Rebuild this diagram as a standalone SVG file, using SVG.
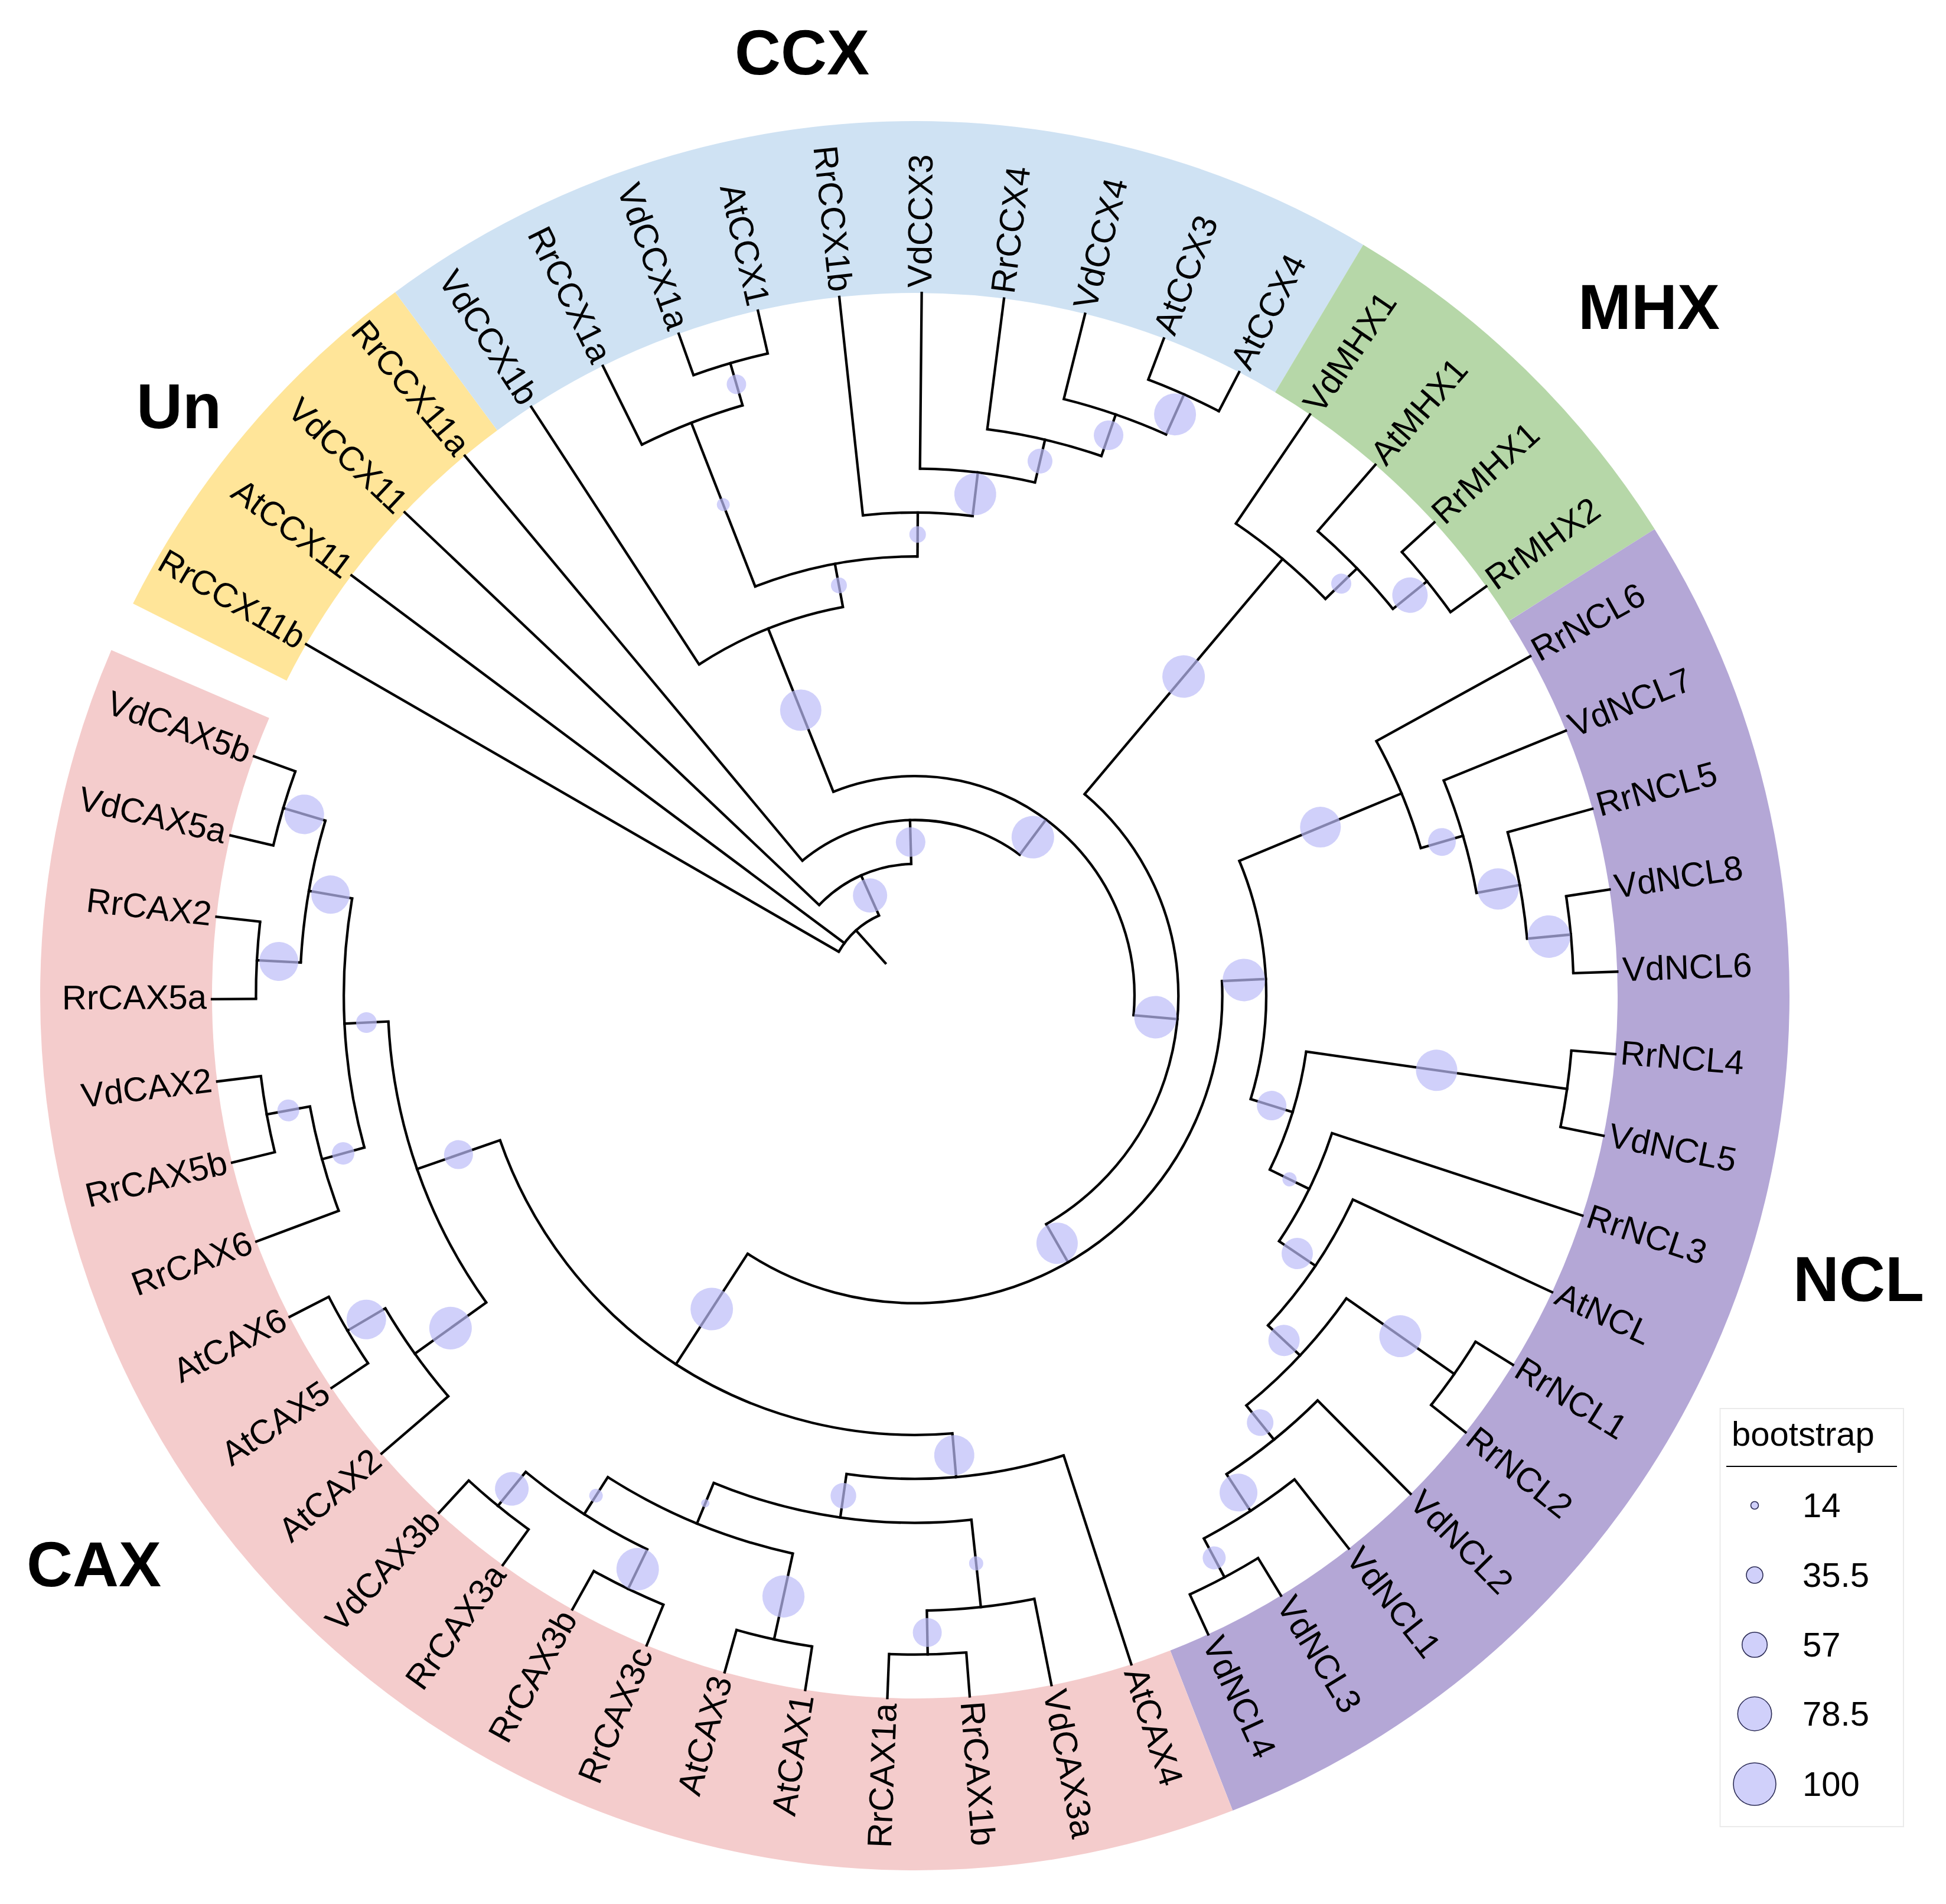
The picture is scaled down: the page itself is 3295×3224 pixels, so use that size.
<svg xmlns="http://www.w3.org/2000/svg" width="3295" height="3224" viewBox="0 0 3295 3224">
<style>
.band{fill:none;stroke-width:291}
.e line{stroke:#000;stroke-width:4.3;stroke-linecap:square}
.e circle{fill:none;stroke:#000;stroke-width:4.3}
.bs{fill:#BCBCF8;fill-opacity:0.7}
.t{font-family:"Liberation Sans",Arial,Helvetica,sans-serif;font-size:58px;fill:#000}
.tr{text-anchor:end}
.ti{font-family:"Liberation Sans",Arial,Helvetica,sans-serif;font-size:108px;font-weight:bold;fill:#000}
.lg{fill:#BCBCF8;fill-opacity:0.7;stroke:#2b2b55;stroke-width:1.6}
</style>
<rect width="3295" height="3224" fill="#fff"/>
<g transform="translate(1549,1686)">
<g id="bands">
<circle class="band" r="1335.5" pathLength="360" stroke="#FFE599" stroke-dasharray="26.916 400" transform="rotate(206.6355)"/>
<circle class="band" r="1335.5" pathLength="360" stroke="#CFE2F3" stroke-dasharray="67.29 400" transform="rotate(233.5515)"/>
<circle class="band" r="1335.5" pathLength="360" stroke="#B6D7A8" stroke-dasharray="26.916 400" transform="rotate(300.8415)"/>
<circle class="band" r="1335.5" pathLength="360" stroke="#B4A7D6" stroke-dasharray="100.935 400" transform="rotate(327.7575)"/>
<circle class="band" r="1335.5" pathLength="360" stroke="#F4CCCC" stroke-dasharray="134.58 400" transform="rotate(68.6925)"/>
</g>
<g id="connectors" class="e">
<line x1="74.38" x2="148.75" transform="rotate(227.97)"/>
<circle r="148.75" pathLength="360" stroke-dasharray="35.94 400" transform="rotate(210)"/>
<circle r="223.13" pathLength="360" stroke-dasharray="44.97 400" transform="rotate(223.46)"/>
<circle r="297.5" pathLength="360" stroke-dasharray="76.47 400" transform="rotate(230.19)"/>
<circle r="371.88" pathLength="360" stroke-dasharray="116.885 400" transform="rotate(248.22)"/>
<circle r="669.38" pathLength="360" stroke-dasharray="22.6 400" transform="rotate(236.92)"/>
<circle r="743.75" pathLength="360" stroke-dasharray="21.66 400" transform="rotate(248.69)"/>
<circle r="1041.25" pathLength="360" stroke-dasharray="10.085 400" transform="rotate(243.65)"/>
<circle r="1115.63" pathLength="360" stroke-dasharray="6.73 400" transform="rotate(250.37)"/>
<circle r="818.13" pathLength="360" stroke-dasharray="13.04 400" transform="rotate(263.83)"/>
<circle r="892.5" pathLength="360" stroke-dasharray="12.62 400" transform="rotate(270.56)"/>
<circle r="966.88" pathLength="360" stroke-dasharray="11.78 400" transform="rotate(277.29)"/>
<circle r="1041.25" pathLength="360" stroke-dasharray="10.095 400" transform="rotate(284.02)"/>
<circle r="1115.63" pathLength="360" stroke-dasharray="6.73 400" transform="rotate(290.75)"/>
<circle r="446.25" pathLength="360" stroke-dasharray="110.01 400" transform="rotate(310.10)"/>
<circle r="966.88" pathLength="360" stroke-dasharray="11.77 400" transform="rotate(304.21)"/>
<circle r="1041.25" pathLength="360" stroke-dasharray="10.085 400" transform="rotate(310.94)"/>
<circle r="1115.63" pathLength="360" stroke-dasharray="6.73 400" transform="rotate(317.66)"/>
<circle r="520.63" pathLength="360" stroke-dasharray="125.671 400" transform="rotate(357.275)"/>
<circle r="595" pathLength="360" stroke-dasharray="39.69 400" transform="rotate(337.43)"/>
<circle r="892.5" pathLength="360" stroke-dasharray="12.619 400" transform="rotate(331.12)"/>
<circle r="966.88" pathLength="360" stroke-dasharray="11.7775 400" transform="rotate(337.85)"/>
<circle r="1041.25" pathLength="360" stroke-dasharray="10.095 400" transform="rotate(344.58)"/>
<circle r="1115.63" pathLength="360" stroke-dasharray="6.73 400" transform="rotate(351.31)"/>
<circle r="669.38" pathLength="360" stroke-dasharray="17.975 400" transform="rotate(368.135)"/>
<circle r="1115.63" pathLength="360" stroke-dasharray="6.73 400" transform="rotate(364.77)"/>
<circle r="743.75" pathLength="360" stroke-dasharray="15.76 400" transform="rotate(378.23)"/>
<circle r="818.13" pathLength="360" stroke-dasharray="18.087 400" transform="rotate(384.95)"/>
<circle r="892.5" pathLength="360" stroke-dasharray="15.984 400" transform="rotate(395.045)"/>
<circle r="1115.63" pathLength="360" stroke-dasharray="6.73 400" transform="rotate(391.68)"/>
<circle r="966.88" pathLength="360" stroke-dasharray="11.7775 400" transform="rotate(405.14)"/>
<circle r="1041.25" pathLength="360" stroke-dasharray="10.095 400" transform="rotate(411.87)"/>
<circle r="1115.63" pathLength="360" stroke-dasharray="6.73 400" transform="rotate(418.60)"/>
<circle r="743.75" pathLength="360" stroke-dasharray="75.702 400" transform="rotate(85.095)"/>
<circle r="818.13" pathLength="360" stroke-dasharray="26.07 400" transform="rotate(72.06)"/>
<circle r="892.5" pathLength="360" stroke-dasharray="28.595 400" transform="rotate(83.835)"/>
<circle r="1041.25" pathLength="360" stroke-dasharray="10.09 400" transform="rotate(78.79)"/>
<circle r="1115.63" pathLength="360" stroke-dasharray="6.72 400" transform="rotate(85.52)"/>
<circle r="966.88" pathLength="360" stroke-dasharray="20.19 400" transform="rotate(102.335)"/>
<circle r="1115.63" pathLength="360" stroke-dasharray="6.73 400" transform="rotate(98.97)"/>
<circle r="1041.25" pathLength="360" stroke-dasharray="13.46 400" transform="rotate(115.795)"/>
<circle r="1115.63" pathLength="360" stroke-dasharray="6.73 400" transform="rotate(112.43)"/>
<circle r="1115.63" pathLength="360" stroke-dasharray="6.73 400" transform="rotate(125.89)"/>
<circle r="892.5" pathLength="360" stroke-dasharray="32.7985 400" transform="rotate(144.3975)"/>
<circle r="966.88" pathLength="360" stroke-dasharray="25.2375 400" transform="rotate(164.5775)"/>
<circle r="1041.25" pathLength="360" stroke-dasharray="13.46 400" transform="rotate(183.085)"/>
<circle r="1115.63" pathLength="360" stroke-dasharray="6.73 400" transform="rotate(193.18)"/>
<circle r="1115.63" pathLength="360" stroke-dasharray="6.73 400" transform="rotate(179.72)"/>
<circle r="1041.25" pathLength="360" stroke-dasharray="10.095 400" transform="rotate(159.53)"/>
<circle r="1115.63" pathLength="360" stroke-dasharray="6.73 400" transform="rotate(166.26)"/>
<circle r="1041.25" pathLength="360" stroke-dasharray="10.095 400" transform="rotate(139.35)"/>
<circle r="1115.63" pathLength="360" stroke-dasharray="6.73 400" transform="rotate(146.08)"/>
<line x1="148.75" x2="223.13" transform="rotate(245.94)"/>
<line x1="223.13" x2="297.5" transform="rotate(268.43)"/>
<line x1="297.5" x2="371.88" transform="rotate(306.66)"/>
<line x1="371.88" x2="669.38" transform="rotate(248.22)"/>
<line x1="669.38" x2="743.75" transform="rotate(259.52)"/>
<line x1="743.75" x2="1041.25" transform="rotate(248.69)"/>
<line x1="1041.25" x2="1115.63" transform="rotate(253.735)"/>
<line x1="743.75" x2="818.13" transform="rotate(270.35)"/>
<line x1="818.13" x2="892.5" transform="rotate(276.87)"/>
<line x1="892.5" x2="966.88" transform="rotate(283.18)"/>
<line x1="966.88" x2="1041.25" transform="rotate(289.07)"/>
<line x1="1041.25" x2="1115.63" transform="rotate(294.115)"/>
<line x1="371.88" x2="446.25" transform="rotate(365.105)"/>
<line x1="446.25" x2="966.88" transform="rotate(310.10)"/>
<line x1="966.88" x2="1041.25" transform="rotate(315.98)"/>
<line x1="1041.25" x2="1115.63" transform="rotate(321.025)"/>
<line x1="446.25" x2="520.63" transform="rotate(420.11)"/>
<line x1="520.63" x2="595" transform="rotate(357.275)"/>
<line x1="595" x2="892.5" transform="rotate(337.43)"/>
<line x1="892.5" x2="966.88" transform="rotate(343.739)"/>
<line x1="966.88" x2="1041.25" transform="rotate(349.6275)"/>
<line x1="1041.25" x2="1115.63" transform="rotate(354.675)"/>
<line x1="595" x2="669.38" transform="rotate(377.12)"/>
<line x1="669.38" x2="1115.63" transform="rotate(368.135)"/>
<line x1="669.38" x2="743.75" transform="rotate(386.11)"/>
<line x1="743.75" x2="818.13" transform="rotate(393.99)"/>
<line x1="818.13" x2="892.5" transform="rotate(403.037)"/>
<line x1="892.5" x2="1115.63" transform="rotate(395.045)"/>
<line x1="892.5" x2="966.88" transform="rotate(411.029)"/>
<line x1="966.88" x2="1041.25" transform="rotate(416.9175)"/>
<line x1="1041.25" x2="1115.63" transform="rotate(421.965)"/>
<line x1="520.63" x2="743.75" transform="rotate(122.946)"/>
<line x1="743.75" x2="818.13" transform="rotate(85.095)"/>
<line x1="818.13" x2="892.5" transform="rotate(98.13)"/>
<line x1="892.5" x2="1041.25" transform="rotate(83.835)"/>
<line x1="1041.25" x2="1115.63" transform="rotate(88.88)"/>
<line x1="892.5" x2="966.88" transform="rotate(112.43)"/>
<line x1="966.88" x2="1115.63" transform="rotate(102.335)"/>
<line x1="966.88" x2="1041.25" transform="rotate(122.525)"/>
<line x1="1041.25" x2="1115.63" transform="rotate(115.795)"/>
<line x1="1041.25" x2="1115.63" transform="rotate(129.255)"/>
<line x1="743.75" x2="892.5" transform="rotate(160.797)"/>
<line x1="892.5" x2="966.88" transform="rotate(177.196)"/>
<line x1="966.88" x2="1041.25" transform="rotate(189.815)"/>
<line x1="1041.25" x2="1115.63" transform="rotate(196.545)"/>
<line x1="1041.25" x2="1115.63" transform="rotate(183.085)"/>
<line x1="966.88" x2="1041.25" transform="rotate(164.5775)"/>
<line x1="1041.25" x2="1115.63" transform="rotate(169.625)"/>
<line x1="892.5" x2="1041.25" transform="rotate(144.3975)"/>
<line x1="1041.25" x2="1115.63" transform="rotate(149.445)"/>
<line x1="148.75" x2="1190" transform="rotate(210)"/>
<line x1="148.75" x2="1190" transform="rotate(216.73)"/>
<line x1="223.13" x2="1190" transform="rotate(223.46)"/>
<line x1="297.5" x2="1190" transform="rotate(230.19)"/>
<line x1="669.38" x2="1190" transform="rotate(236.92)"/>
<line x1="1041.25" x2="1190" transform="rotate(243.65)"/>
<line x1="1115.63" x2="1190" transform="rotate(250.37)"/>
<line x1="1115.63" x2="1190" transform="rotate(257.10)"/>
<line x1="818.13" x2="1190" transform="rotate(263.83)"/>
<line x1="892.5" x2="1190" transform="rotate(270.56)"/>
<line x1="966.88" x2="1190" transform="rotate(277.29)"/>
<line x1="1041.25" x2="1190" transform="rotate(284.02)"/>
<line x1="1115.63" x2="1190" transform="rotate(290.75)"/>
<line x1="1115.63" x2="1190" transform="rotate(297.48)"/>
<line x1="966.88" x2="1190" transform="rotate(304.21)"/>
<line x1="1041.25" x2="1190" transform="rotate(310.94)"/>
<line x1="1115.63" x2="1190" transform="rotate(317.66)"/>
<line x1="1115.63" x2="1190" transform="rotate(324.39)"/>
<line x1="892.5" x2="1190" transform="rotate(331.12)"/>
<line x1="966.88" x2="1190" transform="rotate(337.85)"/>
<line x1="1041.25" x2="1190" transform="rotate(344.58)"/>
<line x1="1115.63" x2="1190" transform="rotate(351.31)"/>
<line x1="1115.63" x2="1190" transform="rotate(358.04)"/>
<line x1="1115.63" x2="1190" transform="rotate(364.77)"/>
<line x1="1115.63" x2="1190" transform="rotate(371.50)"/>
<line x1="743.75" x2="1190" transform="rotate(378.23)"/>
<line x1="818.13" x2="1190" transform="rotate(384.95)"/>
<line x1="1115.63" x2="1190" transform="rotate(391.68)"/>
<line x1="1115.63" x2="1190" transform="rotate(398.41)"/>
<line x1="966.88" x2="1190" transform="rotate(405.14)"/>
<line x1="1041.25" x2="1190" transform="rotate(411.87)"/>
<line x1="1115.63" x2="1190" transform="rotate(418.60)"/>
<line x1="1115.63" x2="1190" transform="rotate(425.33)"/>
<line x1="818.13" x2="1190" transform="rotate(72.06)"/>
<line x1="1041.25" x2="1190" transform="rotate(78.79)"/>
<line x1="1115.63" x2="1190" transform="rotate(85.52)"/>
<line x1="1115.63" x2="1190" transform="rotate(92.24)"/>
<line x1="1115.63" x2="1190" transform="rotate(98.97)"/>
<line x1="1115.63" x2="1190" transform="rotate(105.70)"/>
<line x1="1115.63" x2="1190" transform="rotate(112.43)"/>
<line x1="1115.63" x2="1190" transform="rotate(119.16)"/>
<line x1="1115.63" x2="1190" transform="rotate(125.89)"/>
<line x1="1115.63" x2="1190" transform="rotate(132.62)"/>
<line x1="1041.25" x2="1190" transform="rotate(139.35)"/>
<line x1="1115.63" x2="1190" transform="rotate(146.08)"/>
<line x1="1115.63" x2="1190" transform="rotate(152.81)"/>
<line x1="1041.25" x2="1190" transform="rotate(159.53)"/>
<line x1="1115.63" x2="1190" transform="rotate(166.26)"/>
<line x1="1115.63" x2="1190" transform="rotate(172.99)"/>
<line x1="1115.63" x2="1190" transform="rotate(179.72)"/>
<line x1="1115.63" x2="1190" transform="rotate(186.45)"/>
<line x1="1115.63" x2="1190" transform="rotate(193.18)"/>
<line x1="1115.63" x2="1190" transform="rotate(199.91)"/>
</g>
<g id="internal-nodes">
<g id="n-N2"><circle class="bs" cx="185.94" r="29" transform="rotate(245.94)"/></g>
<g id="n-N3"><circle class="bs" cx="260.31" r="25" transform="rotate(268.43)"/></g>
<g id="n-N4"><circle class="bs" cx="334.69" r="36" transform="rotate(306.66)"/></g>
<g id="n-CCX"><circle class="bs" cx="520.63" r="35" transform="rotate(248.22)"/></g>
<g id="n-C1"><circle class="bs" cx="706.56" r="13.5" transform="rotate(259.52)"/></g>
<g id="n-C2"><circle class="bs" cx="892.5" r="11" transform="rotate(248.69)"/></g>
<g id="n-C3"><circle class="bs" cx="1078.44" r="16.5" transform="rotate(253.735)"/></g>
<g id="n-C4"><circle class="bs" cx="780.94" r="14" transform="rotate(270.35)"/></g>
<g id="n-C5"><circle class="bs" cx="855.31" r="35.5" transform="rotate(276.87)"/></g>
<g id="n-C6"><circle class="bs" cx="929.69" r="21" transform="rotate(283.18)"/></g>
<g id="n-C7"><circle class="bs" cx="1004.06" r="25" transform="rotate(289.07)"/></g>
<g id="n-C8"><circle class="bs" cx="1078.44" r="35.5" transform="rotate(294.115)"/></g>
<g id="n-N5"><circle class="bs" cx="409.06" r="36" transform="rotate(365.105)"/></g>
<g id="n-MHX"><circle class="bs" cx="706.56" r="36" transform="rotate(310.10)"/></g>
<g id="n-M1"><circle class="bs" cx="1004.06" r="17" transform="rotate(315.98)"/></g>
<g id="n-M2"><circle class="bs" cx="1078.44" r="30" transform="rotate(321.025)"/></g>
<g id="n-N6"><circle class="bs" cx="483.44" r="35" transform="rotate(420.11)"/></g>
<g id="n-NCL"><circle class="bs" cx="557.81" r="36" transform="rotate(357.275)"/></g>
<g id="n-NA"><circle class="bs" cx="743.75" r="34.5" transform="rotate(337.43)"/></g>
<g id="n-NB"><circle class="bs" cx="929.69" r="23.5" transform="rotate(343.739)"/></g>
<g id="n-NC"><circle class="bs" cx="1004.06" r="35" transform="rotate(349.6275)"/></g>
<g id="n-ND"><circle class="bs" cx="1078.44" r="36" transform="rotate(354.675)"/></g>
<g id="n-NE"><circle class="bs" cx="632.19" r="25" transform="rotate(377.12)"/></g>
<g id="n-NF"><circle class="bs" cx="892.5" r="35" transform="rotate(368.135)"/></g>
<g id="n-NG"><circle class="bs" cx="706.56" r="12" transform="rotate(386.11)"/></g>
<g id="n-NH"><circle class="bs" cx="780.94" r="26.5" transform="rotate(393.99)"/></g>
<g id="n-NI"><circle class="bs" cx="855.31" r="26.5" transform="rotate(403.037)"/></g>
<g id="n-NJ"><circle class="bs" cx="1004.06" r="35.5" transform="rotate(395.045)"/></g>
<g id="n-NK"><circle class="bs" cx="929.69" r="22.5" transform="rotate(411.029)"/></g>
<g id="n-NL"><circle class="bs" cx="1004.06" r="32" transform="rotate(416.9175)"/></g>
<g id="n-NM"><circle class="bs" cx="1078.44" r="19.5" transform="rotate(421.965)"/></g>
<g id="n-CAX"><circle class="bs" cx="632.19" r="36" transform="rotate(122.946)"/></g>
<g id="n-X1"><circle class="bs" cx="780.94" r="34" transform="rotate(85.095)"/></g>
<g id="n-X2"><circle class="bs" cx="855.31" r="21.7" transform="rotate(98.13)"/></g>
<g id="n-X3"><circle class="bs" cx="966.88" r="12" transform="rotate(83.835)"/></g>
<g id="n-X5"><circle class="bs" cx="1078.44" r="24.5" transform="rotate(88.88)"/></g>
<g id="n-X4"><circle class="bs" cx="929.69" r="7" transform="rotate(112.43)"/></g>
<g id="n-X6"><circle class="bs" cx="1041.25" r="35.7" transform="rotate(102.335)"/></g>
<g id="n-X7"><circle class="bs" cx="1004.06" r="11.5" transform="rotate(122.525)"/></g>
<g id="n-X8"><circle class="bs" cx="1078.44" r="36" transform="rotate(115.795)"/></g>
<g id="n-X9"><circle class="bs" cx="1078.44" r="28.5" transform="rotate(129.255)"/></g>
<g id="n-X10"><circle class="bs" cx="818.13" r="24.5" transform="rotate(160.797)"/></g>
<g id="n-X11"><circle class="bs" cx="929.69" r="17.5" transform="rotate(177.196)"/></g>
<g id="n-X13"><circle class="bs" cx="1004.06" r="32.5" transform="rotate(189.815)"/></g>
<g id="n-X15"><circle class="bs" cx="1078.44" r="33.5" transform="rotate(196.545)"/></g>
<g id="n-X16"><circle class="bs" cx="1078.44" r="33" transform="rotate(183.085)"/></g>
<g id="n-X14"><circle class="bs" cx="1004.06" r="19" transform="rotate(164.5775)"/></g>
<g id="n-X17"><circle class="bs" cx="1078.44" r="18.5" transform="rotate(169.625)"/></g>
<g id="n-X12"><circle class="bs" cx="966.88" r="36" transform="rotate(144.3975)"/></g>
<g id="n-X18"><circle class="bs" cx="1078.44" r="33.5" transform="rotate(149.445)"/></g>
</g>
<g id="leaves">
<g id="leaf-RrCCX11b"><text class="t tr" x="-1199" dy="0.28em" transform="rotate(30)">RrCCX11b</text></g>
<g id="leaf-AtCCX11"><text class="t tr" x="-1199" dy="0.28em" transform="rotate(36.73)">AtCCX11</text></g>
<g id="leaf-VdCCX11"><text class="t tr" x="-1199" dy="0.28em" transform="rotate(43.46)">VdCCX11</text></g>
<g id="leaf-RrCCX11a"><text class="t tr" x="-1199" dy="0.28em" transform="rotate(50.19)">RrCCX11a</text></g>
<g id="leaf-VdCCX1b"><text class="t tr" x="-1199" dy="0.28em" transform="rotate(56.92)">VdCCX1b</text></g>
<g id="leaf-RrCCX1a"><text class="t tr" x="-1199" dy="0.28em" transform="rotate(63.65)">RrCCX1a</text></g>
<g id="leaf-VdCCX1a"><text class="t tr" x="-1199" dy="0.28em" transform="rotate(70.37)">VdCCX1a</text></g>
<g id="leaf-AtCCX1"><text class="t tr" x="-1199" dy="0.28em" transform="rotate(77.10)">AtCCX1</text></g>
<g id="leaf-RrCCX1b"><text class="t tr" x="-1199" dy="0.28em" transform="rotate(83.83)">RrCCX1b</text></g>
<g id="leaf-VdCCX3"><text class="t" x="1199" dy="0.28em" transform="rotate(270.56)">VdCCX3</text></g>
<g id="leaf-RrCCX4"><text class="t" x="1199" dy="0.28em" transform="rotate(277.29)">RrCCX4</text></g>
<g id="leaf-VdCCX4"><text class="t" x="1199" dy="0.28em" transform="rotate(284.02)">VdCCX4</text></g>
<g id="leaf-AtCCX3"><text class="t" x="1199" dy="0.28em" transform="rotate(290.75)">AtCCX3</text></g>
<g id="leaf-AtCCX4"><text class="t" x="1199" dy="0.28em" transform="rotate(297.48)">AtCCX4</text></g>
<g id="leaf-VdMHX1"><text class="t" x="1199" dy="0.28em" transform="rotate(304.21)">VdMHX1</text></g>
<g id="leaf-AtMHX1"><text class="t" x="1199" dy="0.28em" transform="rotate(310.94)">AtMHX1</text></g>
<g id="leaf-RrMHX1"><text class="t" x="1199" dy="0.28em" transform="rotate(317.66)">RrMHX1</text></g>
<g id="leaf-RrMHX2"><text class="t" x="1199" dy="0.28em" transform="rotate(324.39)">RrMHX2</text></g>
<g id="leaf-RrNCL6"><text class="t" x="1199" dy="0.28em" transform="rotate(331.12)">RrNCL6</text></g>
<g id="leaf-VdNCL7"><text class="t" x="1199" dy="0.28em" transform="rotate(337.85)">VdNCL7</text></g>
<g id="leaf-RrNCL5"><text class="t" x="1199" dy="0.28em" transform="rotate(344.58)">RrNCL5</text></g>
<g id="leaf-VdNCL8"><text class="t" x="1199" dy="0.28em" transform="rotate(351.31)">VdNCL8</text></g>
<g id="leaf-VdNCL6"><text class="t" x="1199" dy="0.28em" transform="rotate(358.04)">VdNCL6</text></g>
<g id="leaf-RrNCL4"><text class="t" x="1199" dy="0.28em" transform="rotate(364.77)">RrNCL4</text></g>
<g id="leaf-VdNCL5"><text class="t" x="1199" dy="0.28em" transform="rotate(371.50)">VdNCL5</text></g>
<g id="leaf-RrNCL3"><text class="t" x="1199" dy="0.28em" transform="rotate(378.23)">RrNCL3</text></g>
<g id="leaf-AtNCL"><text class="t" x="1199" dy="0.28em" transform="rotate(384.95)">AtNCL</text></g>
<g id="leaf-RrNCL1"><text class="t" x="1199" dy="0.28em" transform="rotate(391.68)">RrNCL1</text></g>
<g id="leaf-RrNCL2"><text class="t" x="1199" dy="0.28em" transform="rotate(398.41)">RrNCL2</text></g>
<g id="leaf-VdNCL2"><text class="t" x="1199" dy="0.28em" transform="rotate(405.14)">VdNCL2</text></g>
<g id="leaf-VdNCL1"><text class="t" x="1199" dy="0.28em" transform="rotate(411.87)">VdNCL1</text></g>
<g id="leaf-VdNCL3"><text class="t" x="1199" dy="0.28em" transform="rotate(418.60)">VdNCL3</text></g>
<g id="leaf-VdNCL4"><text class="t" x="1199" dy="0.28em" transform="rotate(425.33)">VdNCL4</text></g>
<g id="leaf-AtCAX4"><text class="t" x="1199" dy="0.28em" transform="rotate(72.06)">AtCAX4</text></g>
<g id="leaf-VdCAX3a"><text class="t" x="1199" dy="0.28em" transform="rotate(78.79)">VdCAX3a</text></g>
<g id="leaf-RrCAX1b"><text class="t" x="1199" dy="0.28em" transform="rotate(85.52)">RrCAX1b</text></g>
<g id="leaf-RrCAX1a"><text class="t tr" x="-1199" dy="0.28em" transform="rotate(272.24)">RrCAX1a</text></g>
<g id="leaf-AtCAX1"><text class="t tr" x="-1199" dy="0.28em" transform="rotate(278.97)">AtCAX1</text></g>
<g id="leaf-AtCAX3"><text class="t tr" x="-1199" dy="0.28em" transform="rotate(285.70)">AtCAX3</text></g>
<g id="leaf-RrCAX3c"><text class="t tr" x="-1199" dy="0.28em" transform="rotate(292.43)">RrCAX3c</text></g>
<g id="leaf-RrCAX3b"><text class="t tr" x="-1199" dy="0.28em" transform="rotate(299.16)">RrCAX3b</text></g>
<g id="leaf-RrCAX3a"><text class="t tr" x="-1199" dy="0.28em" transform="rotate(305.89)">RrCAX3a</text></g>
<g id="leaf-VdCAX3b"><text class="t tr" x="-1199" dy="0.28em" transform="rotate(312.62)">VdCAX3b</text></g>
<g id="leaf-AtCAX2"><text class="t tr" x="-1199" dy="0.28em" transform="rotate(319.35)">AtCAX2</text></g>
<g id="leaf-AtCAX5"><text class="t tr" x="-1199" dy="0.28em" transform="rotate(326.08)">AtCAX5</text></g>
<g id="leaf-AtCAX6"><text class="t tr" x="-1199" dy="0.28em" transform="rotate(332.81)">AtCAX6</text></g>
<g id="leaf-RrCAX6"><text class="t tr" x="-1199" dy="0.28em" transform="rotate(339.53)">RrCAX6</text></g>
<g id="leaf-RrCAX5b"><text class="t tr" x="-1199" dy="0.28em" transform="rotate(346.26)">RrCAX5b</text></g>
<g id="leaf-VdCAX2"><text class="t tr" x="-1199" dy="0.28em" transform="rotate(352.99)">VdCAX2</text></g>
<g id="leaf-RrCAX5a"><text class="t tr" x="-1199" dy="0.28em" transform="rotate(359.72)">RrCAX5a</text></g>
<g id="leaf-RrCAX2"><text class="t tr" x="-1199" dy="0.28em" transform="rotate(6.45)">RrCAX2</text></g>
<g id="leaf-VdCAX5a"><text class="t tr" x="-1199" dy="0.28em" transform="rotate(13.18)">VdCAX5a</text></g>
<g id="leaf-VdCAX5b"><text class="t tr" x="-1199" dy="0.28em" transform="rotate(19.91)">VdCAX5b</text></g>
</g>
</g>
<g id="clade-titles">
<text class="ti" x="1244" y="126">CCX</text>
<text class="ti" x="231" y="725">Un</text>
<text class="ti" x="2672" y="557">MHX</text>
<text class="ti" x="3036" y="2203">NCL</text>
<text class="ti" x="45" y="2686">CAX</text>
</g>
<g id="legend">
<rect x="2912.5" y="2385" width="310.5" height="708" fill="#fff" stroke="#EBEBEB" stroke-width="2"/>
<text class="t" x="2932" y="2448">bootstrap</text>
<line x1="2923" y1="2483" x2="3212" y2="2483" stroke="#000" stroke-width="2"/>
<circle class="lg" cx="2971" cy="2549" r="6.5"/>
<circle class="lg" cx="2971" cy="2667" r="14"/>
<circle class="lg" cx="2971" cy="2785" r="21.3"/>
<circle class="lg" cx="2971" cy="2902" r="28.7"/>
<circle class="lg" cx="2971" cy="3021" r="36"/>
<text class="t" x="3052" y="2549" dy="0.35em">14</text>
<text class="t" x="3052" y="2667" dy="0.35em">35.5</text>
<text class="t" x="3052" y="2785" dy="0.35em">57</text>
<text class="t" x="3052" y="2902" dy="0.35em">78.5</text>
<text class="t" x="3052" y="3021" dy="0.35em">100</text>
</g>
</svg>
